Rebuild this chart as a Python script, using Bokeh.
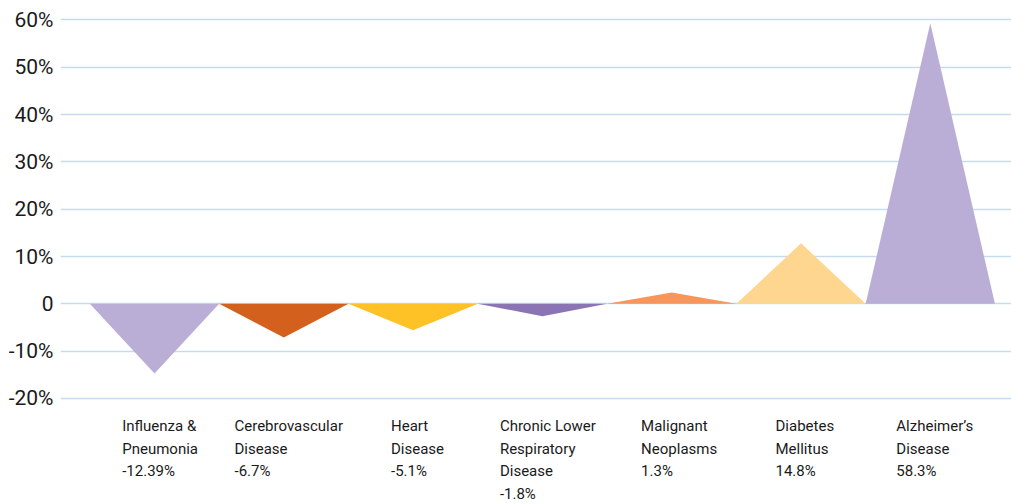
from bokeh.plotting import figure
from bokeh.models import Range1d, FixedTicker, CustomJSTickFormatter, ColumnDataSource
from bokeh.core.properties import value
from bokeh.embed import file_html
from bokeh.resources import INLINE

# ---- data ----
categories = ["Influenza &\nPneumonia", "Cerebrovascular\nDisease", "Heart\nDisease",
              "Chronic Lower\nRespiratory\nDisease", "Malignant\nNeoplasms",
              "Diabetes\nMellitus", "Alzheimer\u2019s\nDisease"]
value_labels = ["-12.39%", "-6.7%", "-5.1%", "-1.8%", "1.3%", "14.8%", "58.3%"]
peak_values = [-14.7, -7.1, -5.6, -2.6, 2.4, 12.8, 59.3]
colors = ["#BBAED6", "#D4601E", "#FEC126", "#8A74B4", "#F7955A", "#FED68F", "#BBAED6"]
y_ticks = [-20, -10, 0, 10, 20, 30, 40, 50, 60]

FONT = "Roboto"

p = figure(width=1011, height=504, output_backend="svg", toolbar_location=None,
           x_range=Range1d(-0.727, 6.628), y_range=Range1d(-42.41, 64.12),
           min_border_left=60, min_border_right=0, min_border_top=0, min_border_bottom=0)
p.outline_line_color = None
p.background_fill_color = "white"
p.border_fill_color = "white"

# grid
p.xgrid.visible = False
p.ygrid.ticker = FixedTicker(ticks=y_ticks)
p.ygrid.grid_line_color = "#C6DBEF"
p.ygrid.grid_line_width = 1.5
p.xaxis.visible = False

# y axis
p.yaxis.ticker = FixedTicker(ticks=y_ticks)
p.yaxis.formatter = CustomJSTickFormatter(code="return tick == 0 ? '0' : tick + '%';")
p.yaxis.axis_line_color = None
p.yaxis.major_tick_line_color = None
p.yaxis.minor_tick_line_color = None
p.yaxis.major_label_standoff = 1
p.yaxis.major_label_text_font = FONT
p.yaxis.major_label_text_font_size = "21px"
p.yaxis.major_label_text_color = "#1a1a1a"

# triangles
xs = [[i - 0.5, i, i + 0.5] for i in range(len(peak_values))]
ys = [[0, v, 0] for v in peak_values]
src = ColumnDataSource(dict(xs=xs, ys=ys, color=colors))
p.patches("xs", "ys", source=src, fill_color="color", line_color=None)


def est_width(s):
    # rough relative glyph widths for centring the label block
    w = 0.0
    for ch in s:
        if ch in "ilI'\u2019.,j1 ":
            w += 0.5
        elif ch in "mwMW":
            w += 1.5
        else:
            w += 1.0
    return w


# category labels below the chart, left-aligned block roughly centered on category
for i, (cat, lab) in enumerate(zip(categories, value_labels)):
    lines = cat.split("\n") + [lab]
    w = max(est_width(s) for s in lines)
    txt = "\n".join(lines)
    p.text(x=[i], y=[-20], text=[txt], text_font=value(FONT), text_font_size="15px",
           text_color="#1a1a1a", text_align="left", text_baseline="top",
           text_line_height=1.25, x_offset=-3.4 * w, y_offset=19)

open("out.html", "w").write(file_html(p, INLINE))
